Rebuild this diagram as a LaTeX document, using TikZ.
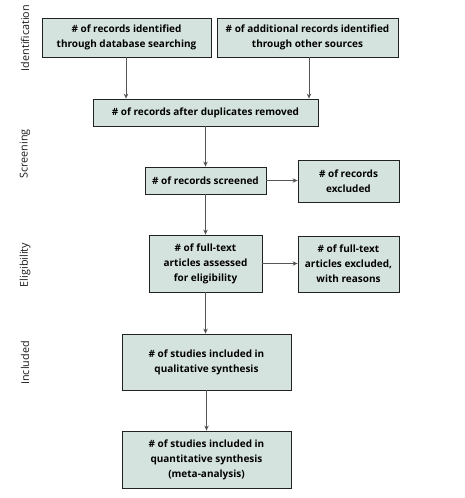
\documentclass[tikz,border=0pt]{standalone}
\usepackage{fontspec}
\setmainfont{Open Sans}
\usetikzlibrary{arrows.meta}
\definecolor{boxfill}{HTML}{D5E3DF}
\definecolor{boxline}{HTML}{222222}
\definecolor{arrline}{HTML}{555555}
\tikzset{
  stagebox/.style={draw=boxline, line width=0.8pt, fill=boxfill, align=center,
    inner sep=1pt, font=\bfseries\fontsize{10}{15}\selectfont, text=black},
  flowarrow/.style={draw=arrline, line width=0.9pt, -{Stealth[length=5pt,width=4.5pt]}},
  sidelabel/.style={rotate=90, font=\fontsize{10.8}{12}\selectfont, text=black!90}
}
\begin{document}
\begin{tikzpicture}[x=1pt,y=-1pt]
\useasboundingbox (0,0) rectangle (464,498);
\node[stagebox, minimum width=169pt, minimum height=39pt] (b1) at (126.5,37.5) {\# of records identified\\through database searching};
\node[stagebox, minimum width=181pt, minimum height=39pt] (b2) at (307.5,37.5) {\# of additional records identified\\through other sources};
\node[stagebox, minimum width=225pt, minimum height=27pt] (b3) at (205.5,112.5) {\# of records after duplicates removed};
\node[stagebox, minimum width=121pt, minimum height=27pt] (b4) at (205.5,180.5) {\# of records screened};
\node[stagebox, minimum width=101pt, minimum height=42pt] (b5) at (348.5,181) {\# of records\\excluded};
\node[stagebox, minimum width=113pt, minimum height=57pt] (b6) at (205.5,263.5) {\# of full-text\\articles assessed\\for eligibility};
\node[stagebox, minimum width=101pt, minimum height=56pt] (b7) at (348.5,264) {\# of full-text\\articles excluded,\\with reasons};
\node[stagebox, minimum width=169pt, minimum height=56pt] (b8) at (206.5,362) {\# of studies included in\\qualitative synthesis};
\node[stagebox, minimum width=169pt, minimum height=57pt] (b9) at (206.5,459.5) {\# of studies included in\\quantitative synthesis\\(meta-analysis)};
\coordinate (a1) at (126,57);
\coordinate (a2) at (309,57);
\draw[flowarrow] (a1) -- (a1 |- b3.north);
\draw[flowarrow] (a2) -- (a2 |- b3.north);
\draw[flowarrow] (b3.south -| b4.north) -- (b4.north);
\draw[flowarrow] (b4.east) -- (b4.east -| b5.west);
\draw[flowarrow] (b4.south) -- (b6.north);
\draw[flowarrow] (b6.east) -- (b6.east -| b7.west);
\draw[flowarrow] (b6.south) -- (b6.south |- b8.north);
\draw[flowarrow] (b8.south) -- (b9.north);
\node[sidelabel] (l1) at (25,38) {Identification};
\node[sidelabel] (l2) at (25,154) {Screening};
\node[sidelabel] (l3) at (25,265) {Eligibility};
\node[sidelabel] (l4) at (25,363) {Included};
\end{tikzpicture}
\end{document}
